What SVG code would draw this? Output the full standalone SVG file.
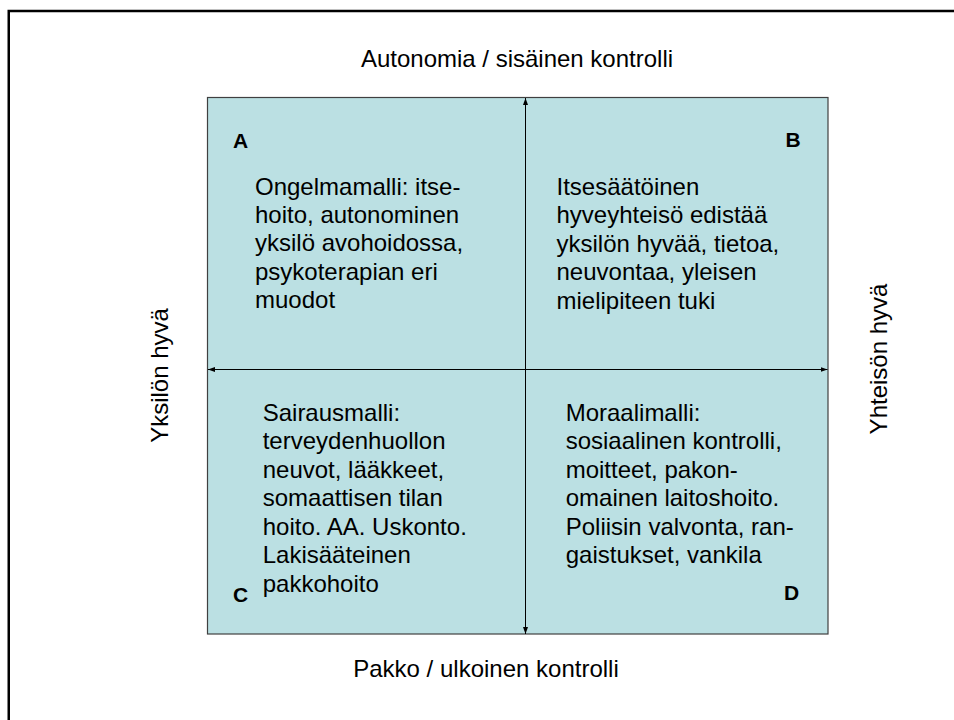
<svg xmlns="http://www.w3.org/2000/svg" width="954" height="720" viewBox="0 0 954 720">
<style>
text { font-family: "Liberation Sans", Arial, sans-serif; fill: #000; }
.body { font-size: 24px; }
.lbl { font-size: 21px; font-weight: bold; }
.axis { font-size: 24px; }
.ax { stroke: #000; stroke-width: 1; fill: none; marker-start: url(#ah); marker-end: url(#ah); }
</style>
<defs>
<marker id="ah" markerUnits="userSpaceOnUse" markerWidth="8" markerHeight="6" refX="7" refY="2.5" orient="auto-start-reverse">
<path d="M0,0 L7,2.5 L0,5 z" fill="#000"/>
</marker>
</defs>
<rect x="0" y="0" width="954" height="720" fill="#fff"/>
<rect id="frame" x="8.75" y="11" width="1000" height="800" fill="none" stroke="#000" stroke-width="2.5"/>
<g id="matrix">
<rect x="207.5" y="97.5" width="620.5" height="536.5" fill="#BBE0E3" stroke="#404040" stroke-width="1.2"/>
</g>
<g id="connectors">
<line class="ax" x1="525.5" y1="634" x2="525.5" y2="98"/>
<line class="ax" x1="827.5" y1="369.5" x2="208" y2="369.5"/>
</g>
<g id="axis-top"><text class="axis" x="517" y="67.3" text-anchor="middle">Autonomia / sisäinen kontrolli</text></g>
<g id="axis-bottom"><text class="axis" x="486" y="676.7" text-anchor="middle">Pakko / ulkoinen kontrolli</text></g>
<g id="axis-left"><text class="axis" transform="translate(167.7,375.5) rotate(-90)" text-anchor="middle">Yksilön hyvä</text></g>
<g id="axis-right"><text class="axis" transform="translate(886.7,359) rotate(-90)" text-anchor="middle">Yhteisön hyvä</text></g>
<g id="quadrant-A">
<text class="lbl" x="233" y="147.7">A</text>
<text class="body" x="255">
<tspan x="255" y="194.5">Ongelmamalli: itse-</tspan>
<tspan x="255" y="222.9">hoito, autonominen</tspan>
<tspan x="255" y="251.3">yksilö avohoidossa,</tspan>
<tspan x="255" y="279.7">psykoterapian eri</tspan>
<tspan x="255" y="308.1">muodot</tspan>
</text>
</g>
<g id="quadrant-B">
<text class="lbl" x="785.5" y="147">B</text>
<text class="body" x="556.5">
<tspan x="556.5" y="195">Itsesäätöinen</tspan>
<tspan x="556.5" y="223.4">hyveyhteisö edistää</tspan>
<tspan x="556.5" y="251.8">yksilön hyvää, tietoa,</tspan>
<tspan x="556.5" y="280.2">neuvontaa, yleisen</tspan>
<tspan x="556.5" y="308.6">mielipiteen tuki</tspan>
</text>
</g>
<g id="quadrant-C">
<text class="lbl" x="233" y="601.7">C</text>
<text class="body" x="262.7">
<tspan x="262.7" y="420.7">Sairausmalli:</tspan>
<tspan x="262.7" y="449.2">terveydenhuollon</tspan>
<tspan x="262.7" y="477.7">neuvot, lääkkeet,</tspan>
<tspan x="262.7" y="506.2">somaattisen tilan</tspan>
<tspan x="262.7" y="534.7">hoito. AA. Uskonto.</tspan>
<tspan x="262.7" y="563.2">Lakisääteinen</tspan>
<tspan x="262.7" y="591.7">pakkohoito</tspan>
</text>
</g>
<g id="quadrant-D">
<text class="lbl" x="784" y="600">D</text>
<text class="body" x="565.7">
<tspan x="565.7" y="420.7">Moraalimalli:</tspan>
<tspan x="565.7" y="449.2">sosiaalinen kontrolli,</tspan>
<tspan x="565.7" y="477.7">moitteet, pakon-</tspan>
<tspan x="565.7" y="506.2">omainen laitoshoito.</tspan>
<tspan x="565.7" y="534.7">Poliisin valvonta, ran-</tspan>
<tspan x="565.7" y="563.2">gaistukset, vankila</tspan>
</text>
</g>
</svg>
